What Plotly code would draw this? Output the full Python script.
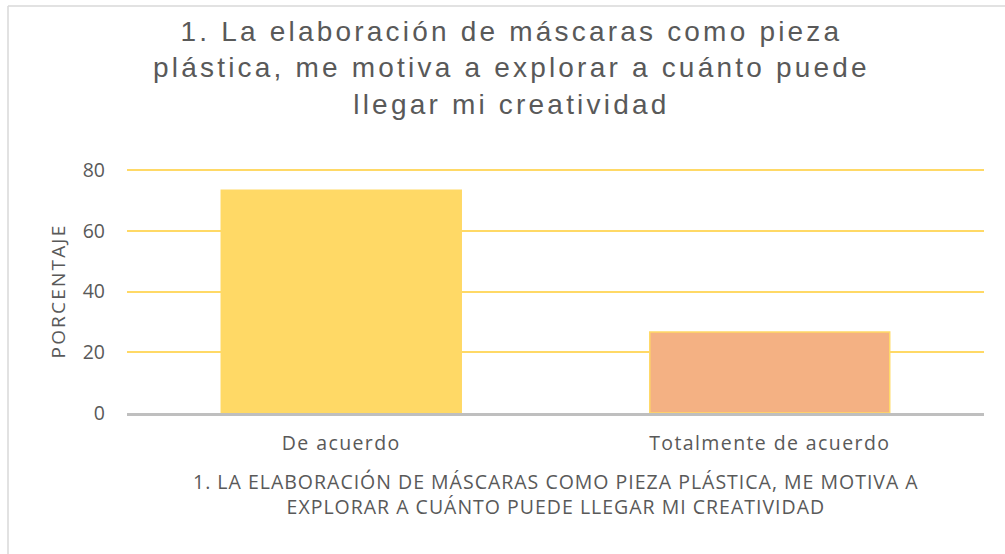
import plotly.graph_objects as go

categories = ["De acuerdo", "Totalmente de acuerdo"]
percentages = [73.33, 26.67]
bar_colors = ["#FFD966", "#F4B183"]
y_ticks = [0, 20, 40, 60, 80]

chart_title = ("1. La elaboración de máscaras como pieza<br>"
               "plástica, me motiva a explorar a cuánto puede<br>"
               "llegar mi creatividad")
x_title = ("1. LA ELABORACIÓN DE MÁSCARAS COMO PIEZA PLÁSTICA, ME MOTIVA A<br>"
           "EXPLORAR A CUÁNTO PUEDE LLEGAR MI CREATIVIDAD")
y_title = "PORCENTAJE"

text_color = "#595959"
body_font = "Open Sans, Lato, sans-serif"

fig = go.Figure()
fig.add_trace(go.Bar(
    x=categories,
    y=percentages,
    marker=dict(color=bar_colors, line=dict(color="#FFD966", width=1.5)),
    width=0.56,
))

W, H = 1005, 554
ml, mr, mt, mb = 127, 21, 167, 141
pw, ph = W - ml - mr, H - mt - mb

fig.update_layout(
    width=W, height=H,
    paper_bgcolor="white",
    plot_bgcolor="white",
    margin=dict(l=ml, r=mr, t=mt, b=mb),
    showlegend=False,
    font=dict(family=body_font, color=text_color),
    xaxis=dict(
        showgrid=False,
        showline=True, linecolor="#BFBFBF", linewidth=2.5,
        ticks="", tickfont=dict(size=19.5, color=text_color),
        ticklabelstandoff=11,
    ),
    yaxis=dict(
        range=[0, 81],
        tickvals=y_ticks,
        showgrid=True, gridcolor="#FFD966", gridwidth=1.5,
        zeroline=False, showline=False,
        ticks="", tickfont=dict(size=19.5, color=text_color),
        ticklabelstandoff=21,
    ),
    annotations=[
        dict(text=chart_title, xref="paper", yref="paper",
             x=(511 - ml) / pw, y=1.0, yshift=153, xanchor="center", yanchor="top",
             showarrow=False, align="center",
             font=dict(family="Liberation Sans, Arial, sans-serif", size=28, color=text_color)),
        dict(text=x_title, xref="paper", yref="paper",
             x=0.5, y=0, yshift=-53, xanchor="center", yanchor="top",
             showarrow=False, align="center",
             font=dict(family=body_font, size=19.5, color=text_color)),
        dict(text=y_title, xref="paper", yref="paper",
             x=0, xshift=-70, y=(291.5 - (H - mb)) / -ph, xanchor="center", yanchor="middle",
             textangle=-90, showarrow=False,
             font=dict(family=body_font, size=19, color=text_color)),
    ],
    shapes=[
        # light chart frame (top and left edges)
        dict(type="line", xref="paper", yref="paper",
             x0=(8 - ml) / pw, x1=(1010 - ml) / pw,
             y0=(H - mb - 6) / ph, y1=(H - mb - 6) / ph,
             line=dict(color="#D9D9D9", width=1.5)),
        dict(type="line", xref="paper", yref="paper",
             x0=(8 - ml) / pw, x1=(8 - ml) / pw,
             y0=(H - mb - 6) / ph, y1=-(mb + 10) / ph,
             line=dict(color="#D9D9D9", width=1.5)),
    ],
)

# remove the page margin and widen letter spacing like the original renderer
post_js = """
document.body.style.margin = '0';
var gd = document.getElementById('{plot_id}');
var ann = gd.querySelectorAll('.annotation-text');
var sp = ['3.2px', '1px', '2.2px'];
ann.forEach(function (t, i) { if (sp[i]) { t.style.letterSpacing = sp[i]; } });
gd.querySelectorAll('.xtick text').forEach(function (t) { t.style.letterSpacing = '1.4px'; });
"""

fig.write_html("out.html", post_script=post_js, config={"displayModeBar": False})
